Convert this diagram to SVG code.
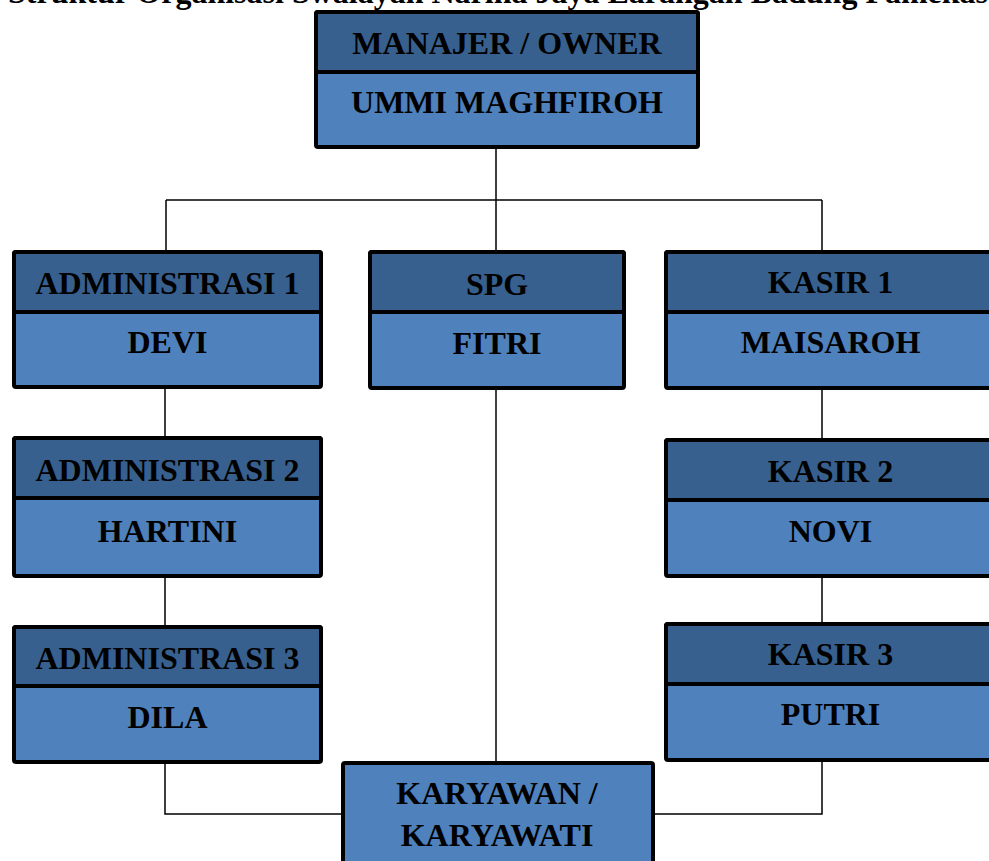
<svg xmlns="http://www.w3.org/2000/svg" width="989" height="861" viewBox="0 0 989 861">
<style>
.t{font-family:"Liberation Serif","Times New Roman",serif;font-weight:bold;font-size:32px;fill:#000;text-anchor:middle}
.ti{font-family:"Liberation Serif","Times New Roman",serif;font-weight:bold;font-size:32px;fill:#000}
.hd{fill:#37608F;stroke:#000;stroke-width:4}
.bd{fill:#4F81BD;stroke:#000;stroke-width:4}
.c{stroke:#000;stroke-width:1.5;fill:none}
</style>
<rect width="989" height="861" fill="#fff"/>
<text class="ti" x="8" y="3">Struktur  Organisasi Swalayan Narina Jaya Larangan Badung Pamekasan</text>
<g id="connectors">
<path class="c" d="M496 148V200M166 200H822M166 200V252M496 200V252M822 200V252"/>
<path class="c" d="M165 387V437M165 576V627M165 762V814H343"/>
<path class="c" d="M822 388V440M822 576V624M822 760V814H652"/>
<path class="c" d="M496 388V762"/>
</g>
<g id="manajer">
<rect class="bd" x="316" y="12" width="382" height="135" rx="2"/>
<rect class="hd" x="316" y="12" width="382" height="60" rx="2"/>
<text class="t" x="507" y="54">MANAJER / OWNER</text>
<text class="t" x="507" y="113">UMMI MAGHFIROH</text>
</g>
<g id="admin1">
<rect class="bd" x="14" y="252" width="307" height="135" rx="2"/>
<rect class="hd" x="14" y="252" width="307" height="60" rx="2"/>
<text class="t" x="167.5" y="294">ADMINISTRASI 1</text>
<text class="t" x="167.5" y="353">DEVI</text>
</g>
<g id="spg">
<rect class="bd" x="370" y="252" width="254" height="136" rx="2"/>
<rect class="hd" x="370" y="252" width="254" height="60" rx="2"/>
<text class="t" x="497" y="295">SPG</text>
<text class="t" x="497" y="354">FITRI</text>
</g>
<g id="kasir1">
<rect class="bd" x="666" y="252" width="330" height="136" rx="2"/>
<rect class="hd" x="666" y="252" width="330" height="60" rx="2"/>
<text class="t" x="830.5" y="293">KASIR 1</text>
<text class="t" x="830.5" y="353">MAISAROH</text>
</g>
<g id="admin2">
<rect class="bd" x="14" y="438" width="307" height="138" rx="2"/>
<rect class="hd" x="14" y="438" width="307" height="60" rx="2"/>
<text class="t" x="167.5" y="481">ADMINISTRASI 2</text>
<text class="t" x="167.5" y="542">HARTINI</text>
</g>
<g id="kasir2">
<rect class="bd" x="666" y="440" width="330" height="136" rx="2"/>
<rect class="hd" x="666" y="440" width="330" height="60" rx="2"/>
<text class="t" x="830.5" y="482">KASIR 2</text>
<text class="t" x="830.5" y="542">NOVI</text>
</g>
<g id="admin3">
<rect class="bd" x="14" y="627" width="307" height="135" rx="2"/>
<rect class="hd" x="14" y="627" width="307" height="59" rx="2"/>
<text class="t" x="167.5" y="669">ADMINISTRASI 3</text>
<text class="t" x="167.5" y="728">DILA</text>
</g>
<g id="kasir3">
<rect class="bd" x="666" y="624" width="330" height="136" rx="2"/>
<rect class="hd" x="666" y="624" width="330" height="60" rx="2"/>
<text class="t" x="830.5" y="665">KASIR 3</text>
<text class="t" x="830.5" y="725">PUTRI</text>
</g>
<g id="karyawan">
<rect class="bd" x="343" y="763" width="310" height="120" rx="2"/>
<text class="t" x="497" y="804">KARYAWAN /</text>
<text class="t" x="497" y="846">KARYAWATI</text>
</g>
</svg>
